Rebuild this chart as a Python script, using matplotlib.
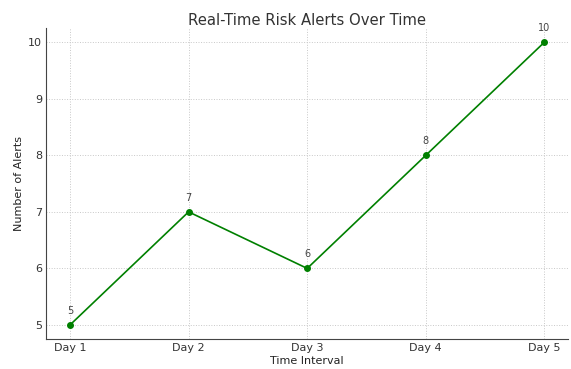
import matplotlib
matplotlib.use('Agg')
import matplotlib.pyplot as plt

days = ["Day 1", "Day 2", "Day 3", "Day 4", "Day 5"]
alerts = [5, 7, 6, 8, 10]

fig = plt.figure(figsize=(5.71, 3.69), dpi=100)
ax = fig.add_axes([0.081, 0.081, 0.914, 0.843])

ax.plot(days, alerts, marker='o', color='green', linewidth=1.2, markersize=4)
for d, v in zip(days, alerts):
    ax.annotate(str(v), (d, v), textcoords="offset points", xytext=(0, 8),
                ha='center', fontsize=7, color='#444444')

ax.set_title("Real-Time Risk Alerts Over Time", fontsize=10.7, color='#333333', pad=2)
ax.set_xlabel("Time Interval", fontsize=8, color='#222222', labelpad=2)
ax.set_ylabel("Number of Alerts", fontsize=8, color='#222222', labelpad=3)
ax.tick_params(labelsize=8, colors='#333333', length=0, pad=3)
ax.grid(True, linestyle=':', linewidth=0.7, color='#c8c8c8')
for s in ['top', 'right']:
    ax.spines[s].set_visible(False)
for s in ['left', 'bottom']:
    ax.spines[s].set_color('#444444')

fig.savefig("out.png", dpi=100)
